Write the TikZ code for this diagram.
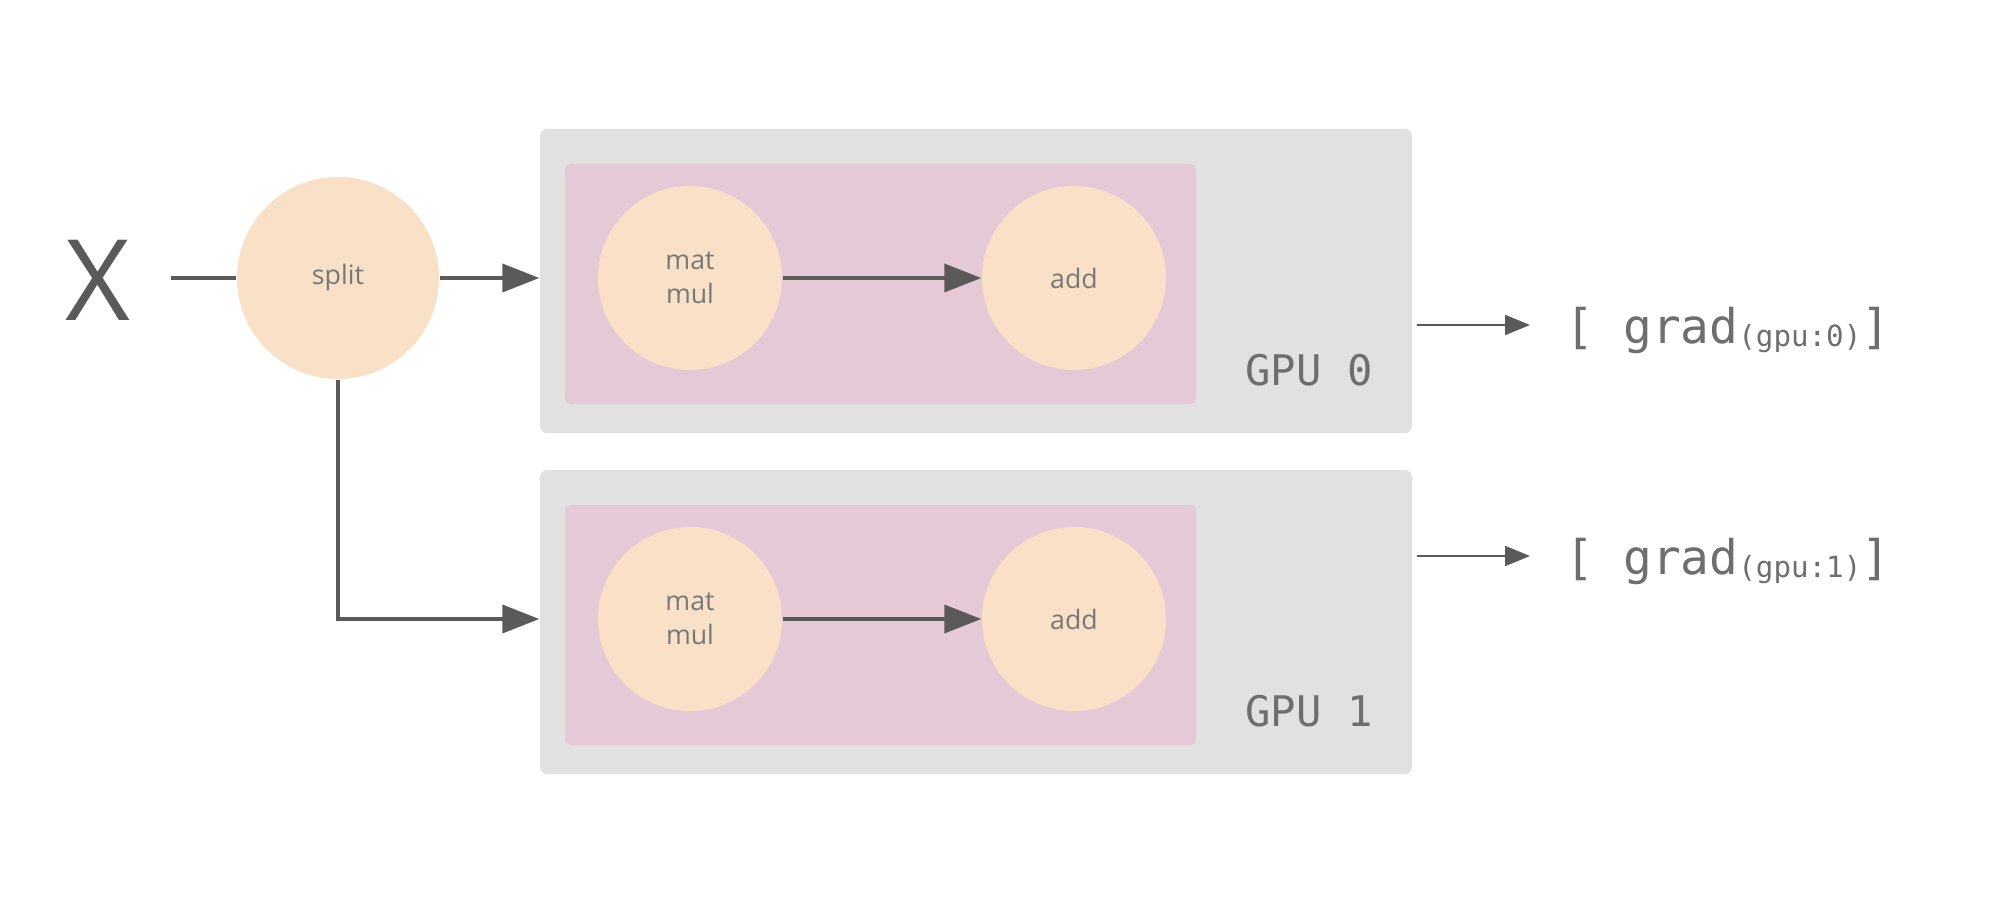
\documentclass[tikz,border=0pt]{standalone}
\usepackage{fontspec}
\setmainfont{Open Sans}
\newfontfamily\monofont{DejaVu Sans Mono}
\usetikzlibrary{arrows.meta}
\definecolor{boxgray}{HTML}{E1E1E1}
\definecolor{pinkbg}{HTML}{E6C9D6}
\definecolor{peach}{HTML}{F8E1C6}
\definecolor{linegray}{HTML}{5A5A5A}
\definecolor{textgray}{HTML}{6E6E6E}
\definecolor{optext}{HTML}{787878}
\tikzset{
  gpubox/.style={fill=boxgray,rounded corners=2pt,minimum width=8.72cm,minimum height=3.04cm,inner sep=0},
  devbox/.style={fill=pinkbg,rounded corners=1.5pt,minimum width=6.31cm,minimum height=2.4cm,inner sep=0},
  op/.style={circle,fill=peach,minimum size=1.84cm,inner sep=0,text=optext,align=center,font=\fontsize{7.6}{9.5}\selectfont},
  flow/.style={draw=linegray,line width=1.1pt,-{Triangle[length=0.37cm,width=0.28cm]}},
  outflow/.style={draw=linegray,line width=0.6pt,-{Triangle[length=0.25cm,width=0.2cm]}},
}
\begin{document}
\begin{tikzpicture}
\useasboundingbox (0,0) rectangle (20,9.2);
\node (input) at (0.98,6.40)[inner sep=0,text=linegray,font=\fontsize{32}{34}\selectfont]{X};
\node (split) at (3.38,6.42)[op,minimum size=2.02cm]{split};
\draw[draw=linegray,line width=1.1pt,shorten <=0.4cm](input.east |- split)--(split);

\foreach \i/\y/\gy in {0/6.42/5.95,1/3.01/3.64}
{
    \node (gpu\i) at (9.76,\y-0.03)[gpubox]{};
    \node (dev\i) at (8.805,\y-0.06)[devbox]{};
    \node (mm\i) at (6.90,\y)[op]{mat\\mul};
    \node (add\i) at (10.74,\y)[op]{add};
    \draw[flow](mm\i)--(add\i);
    \node (lbl\i) at (13.09,\y-0.92)[text=textgray,font=\monofont\fontsize{12}{14}\selectfont]{GPU \i};
    \node (grad\i) at (15.65,\gy-0.18)[anchor=base west,inner sep=0,text=textgray,font=\monofont\fontsize{13.6}{15}\selectfont]
        {[ grad\raisebox{-1pt}{\fontsize{8.3}{9}\selectfont(gpu:\i)}]};
    \coordinate (tail\i) at (14.17,\gy);
    \draw[outflow,shorten >=0.35cm](tail\i)--(tail\i -| grad\i.west);
}

\draw[flow](split)--(split -| gpu0.west);
\draw[flow](split.south)|-(mm1 -| gpu1.west);

\end{tikzpicture}
\end{document}
